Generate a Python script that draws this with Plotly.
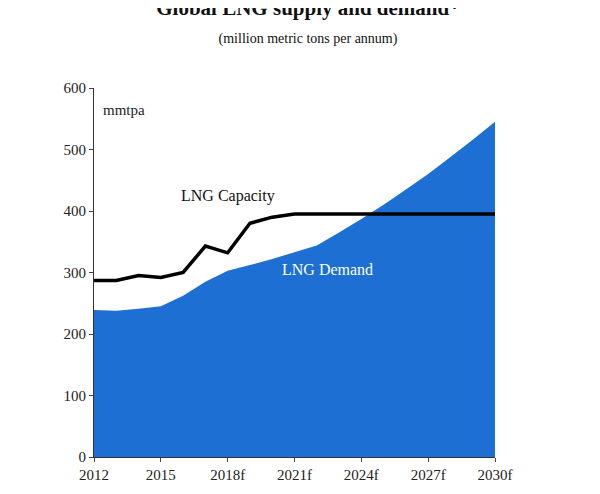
import plotly.graph_objects as go

years = list(range(2012, 2031))
tick_vals = [2012, 2015, 2018, 2021, 2024, 2027, 2030]
tick_text = ["2012", "2015", "2018f", "2021f", "2024f", "2027f", "2030f"]

demand = [239, 238, 241, 245, 262, 285, 303, 312, 322, 333, 344, 365,
          387, 410, 435, 460, 488, 516, 545]
capacity = [287, 287, 295, 292, 300, 343, 332, 380, 390, 395, 395, 395,
            395, 395, 395, 395, 395, 395, 395]

FONT = "Liberation Serif"

fig = go.Figure()
fig.add_trace(go.Scatter(
    x=years, y=demand, fill="tozeroy", mode="none",
    fillcolor="#1d6fd3", name="LNG Demand",
))
fig.add_trace(go.Scatter(
    x=years, y=capacity, mode="lines",
    line=dict(color="black", width=3.5), name="LNG Capacity",
))

fig.add_annotation(x=2012.3, y=565, text="mmtpa", showarrow=False,
                   xanchor="left", font=dict(size=15, color="#222"))
fig.add_annotation(x=2018, y=425, text="LNG Capacity", showarrow=False,
                   font=dict(size=16, color="#111"))
fig.add_annotation(x=2022.5, y=305, text="LNG Demand", showarrow=False,
                   font=dict(size=16, color="white"))

fig.update_layout(
    title=dict(
        text="<b>Global LNG supply and demand*</b><br>"
             "<span style='font-size:14px'>(million metric tons per annum)</span>",
        x=0.5, xanchor="center", y=0.985, yanchor="top",
        font=dict(size=21, color="#111", family=FONT),
    ),
    font=dict(family=FONT, size=15, color="#222"),
    width=600, height=494,
    margin=dict(l=86, r=113, t=80, b=45),
    plot_bgcolor="white", paper_bgcolor="white",
    showlegend=False,
    xaxis=dict(range=[2012, 2030], tickvals=tick_vals, ticktext=tick_text,
               showgrid=False, showline=True, linecolor="#333",
               ticks="outside", ticklen=4, zeroline=False),
    yaxis=dict(range=[0, 600], dtick=100, showgrid=False, showline=True,
               linecolor="#333", ticks="outside", ticklen=4, zeroline=False),
)

fig.write_html("out.html")
